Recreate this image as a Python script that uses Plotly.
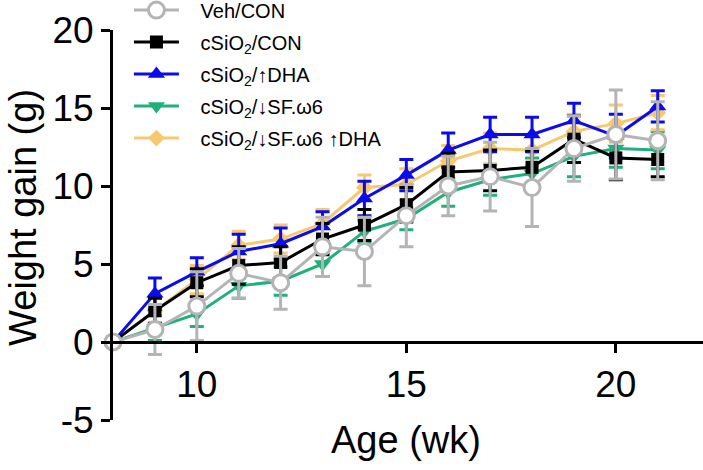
import plotly.graph_objects as go

# Weight gain by age, mean +/- error
weeks = [8, 9, 10, 11, 12, 13, 14, 15, 16, 17, 18, 19, 20, 21]

veh_con = [0, 0.8, 2.3, 4.4, 3.8, 6.1, 5.8, 8.1, 10.0, 10.6, 9.9, 12.4, 13.3, 12.9]
veh_con_err = [0, 1.6, 2.2, 1.6, 1.7, 1.9, 2.2, 2.0, 1.9, 2.2, 2.5, 2.1, 2.85, 2.5]

sio2_con = [0, 2.0, 3.8, 4.9, 5.1, 6.6, 7.5, 8.8, 10.9, 11.0, 11.2, 13.0, 11.8, 11.7]
sio2_con_err = [0, 0.8, 0.9, 1.2, 1.0, 1.0, 1.0, 1.1, 1.2, 1.3, 1.1, 1.5, 1.4, 1.1]

sio2_dha = [0, 3.1, 4.5, 5.8, 6.3, 7.4, 9.2, 10.7, 12.3, 13.3, 13.3, 14.2, 13.2, 15.1]
sio2_dha_err = [0, 1.0, 0.9, 1.1, 1.0, 0.95, 1.1, 1.0, 1.1, 1.1, 1.1, 1.1, 1.4, 1.0]

sio2_sf = [0, 0.9, 1.8, 3.6, 3.9, 5.0, 7.1, 7.9, 9.6, 10.4, 10.8, 11.9, 12.4, 12.3]
sio2_sf_err = [0, 0.8, 0.8, 0.8, 0.9, 0.8, 0.7, 0.7, 0.9, 1.0, 1.0, 1.3, 1.2, 1.2]

sio2_sf_dha = [0, 2.0, 4.0, 6.2, 6.6, 7.6, 9.9, 10.1, 11.6, 12.4, 12.3, 13.5, 14.0, 14.7]
sio2_sf_dha_err = [0, 0.9, 0.9, 0.9, 0.9, 0.9, 0.8, 1.0, 1.0, 1.0, 1.0, 1.1, 1.2, 1.1]

x_ticks = [10, 15, 20]
y_ticks = [-5, 0, 5, 10, 15, 20]
y_ticktext = ["-5", "0", "5", "10", "15", "20"]

FONT = "Arial, Liberation Sans, sans-serif"
PAD = "\u00a0\u00a0\u00a0"  # a little extra room between legend symbol and text

# drawn bottom to top; legendrank keeps the legend order of the original
series = [
    ("cSiO<sub>2</sub>/↓SF.ω6", sio2_sf, sio2_sf_err, "#21b07c", "triangle-down", 15, 4),
    ("cSiO<sub>2</sub>/↓SF.ω6 ↑DHA", sio2_sf_dha, sio2_sf_dha_err, "#f6c970", "diamond", 13, 5),
    ("cSiO<sub>2</sub>/↑DHA", sio2_dha, sio2_dha_err, "#0b0bec", "triangle-up", 15, 3),
    ("cSiO<sub>2</sub>/CON", sio2_con, sio2_con_err, "#000000", "square", 13, 2),
    ("Veh/CON", veh_con, veh_con_err, "#b4b4b4", "circle", 16, 1),
]

fig = go.Figure()
for name, vals, errs, color, symbol, size, rank in series:
    open_marker = symbol == "circle"
    fig.add_trace(go.Scatter(
        x=weeks, y=vals, name=PAD + name, mode="lines+markers",
        line=dict(color=color, width=3),
        marker=dict(symbol=symbol, size=size,
                    color="white" if open_marker else color,
                    line=dict(color=color, width=3 if open_marker else 0)),
        error_y=dict(type="data", array=errs, color=color, thickness=3, width=7),
        legendrank=rank, legendgroup=name, cliponaxis=False,
    ))

fig.update_layout(
    width=703, height=470,
    margin=dict(l=113, r=0, t=30, b=50, autoexpand=False),
    plot_bgcolor="white", paper_bgcolor="white",
    font=dict(family=FONT, color="black"),
    showlegend=True,
    legend=dict(x=0.027, y=1.101, xanchor="left", yanchor="top",
                bgcolor="rgba(0,0,0,0)", font=dict(size=20, family=FONT),
                tracegroupgap=3, itemwidth=45),
    xaxis=dict(range=[8, 22.08], tickvals=x_ticks, showgrid=False,
               zeroline=False, showline=True, linecolor="black", linewidth=3,
               ticks="outside", ticklen=9, tickwidth=3, tickcolor="black",
               tickfont=dict(size=37), anchor="free", position=0.2,
               automargin=False),
    yaxis=dict(range=[-5, 20], tickvals=y_ticks, ticktext=y_ticktext,
               showgrid=False, zeroline=False, showline=True,
               linecolor="black", linewidth=3,
               ticks="outside", ticklen=9, tickwidth=3, tickcolor="black",
               tickfont=dict(size=37), automargin=False),
    annotations=[
        dict(text="Age (wk)", xref="x", yref="paper", x=15, y=-0.05,
             xanchor="center", yanchor="middle", showarrow=False,
             font=dict(size=38, family=FONT)),
        dict(text="Weight gain (g)", xref="paper", yref="paper", x=-0.153, y=0.52,
             xanchor="center", yanchor="middle", textangle=-90, showarrow=False,
             font=dict(size=38, family=FONT)),
    ],
)

# the page body has a default 8px margin; drop it so the figure sits at 0,0
fig.write_html("out.html", config={"displayModeBar": False},
               post_script="document.body.style.margin='0';")
